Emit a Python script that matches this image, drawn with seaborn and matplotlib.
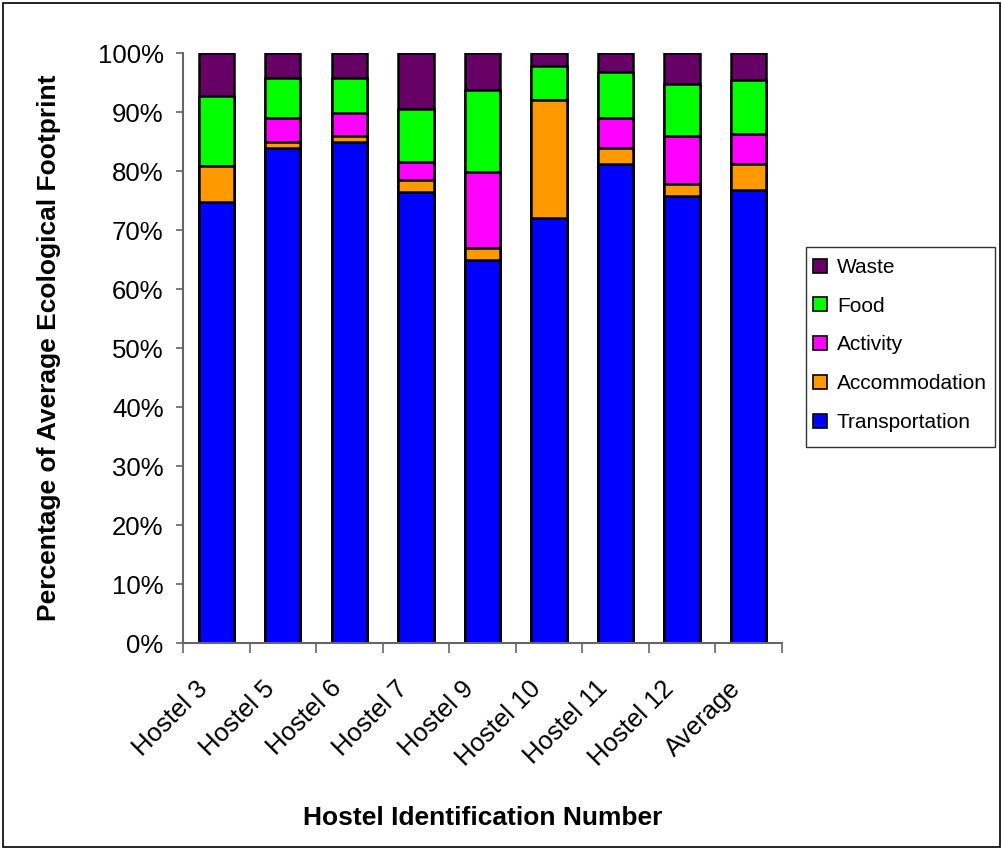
import numpy as np
import pandas as pd
import matplotlib
matplotlib.use('Agg')
import matplotlib.pyplot as plt
from matplotlib.patches import Patch, Rectangle
from matplotlib.ticker import FuncFormatter, FixedLocator
from matplotlib.transforms import ScaledTranslation
import seaborn as sns

# Datos (porcentaje de la huella ecológica promedio)
hostels = ['Hostel 3', 'Hostel 5', 'Hostel 6', 'Hostel 7', 'Hostel 9',
           'Hostel 10', 'Hostel 11', 'Hostel 12', 'Average']
transportation = [74.8, 84.0, 85.0, 76.5, 65.0, 72.0, 81.2, 75.8, 76.8]
accommodation = [6.0, 1.0, 1.0, 2.0, 2.0, 20.0, 2.7, 2.0, 4.4]
activity = [0.0, 4.0, 3.8, 3.0, 12.9, 0.0, 5.1, 8.1, 5.1]
food = [12.0, 6.8, 6.0, 9.1, 13.9, 5.8, 7.8, 8.8, 9.1]
waste = [7.2, 4.2, 4.2, 9.4, 6.2, 2.2, 3.2, 5.3, 4.6]

categories = ['Transportation', 'Accommodation', 'Activity', 'Food', 'Waste']
colors = {'Transportation': '#0000FF', 'Accommodation': '#FF9900',
          'Activity': '#FF00FF', 'Food': '#00FF00', 'Waste': '#660066'}

df = pd.DataFrame({'Hostel': hostels, 'Transportation': transportation,
                   'Accommodation': accommodation, 'Activity': activity,
                   'Food': food, 'Waste': waste})

# Acumulados para apilar (se dibuja del más alto al más bajo)
cum = df[categories].cumsum(axis=1)
cum['Hostel'] = df['Hostel']

sns.set_theme(style='white')
plt.rcParams['font.family'] = ['Liberation Sans', 'DejaVu Sans']
plt.rcParams['text.color'] = 'black'
plt.rcParams['axes.labelcolor'] = 'black'
plt.rcParams['xtick.color'] = 'black'
plt.rcParams['ytick.color'] = 'black'

fig = plt.figure(figsize=(10.03, 8.5), dpi=100)
ax = fig.add_axes([0.1825, 0.2435, 0.597, 0.694])

for cat in reversed(categories):
    sns.barplot(data=cum, x='Hostel', y=cat, color=colors[cat], ax=ax,
                width=0.53, edgecolor='black', linewidth=1.8, saturation=1)

ax.set_ylim(0, 100)
ax.set_xlim(-0.5, len(hostels) - 0.5)
ax.set_yticks(np.arange(0, 101, 10))
ax.yaxis.set_major_formatter(FuncFormatter(lambda v, p: f'{int(v)}%'))
ax.tick_params(axis='y', which='major', length=5, width=1.2, color='#666666',
               labelsize=18.5, left=True, pad=9)
ax.tick_params(axis='x', which='major', length=0, labelsize=18.5, pad=30)
ax.xaxis.set_minor_locator(FixedLocator(np.arange(-0.5, len(hostels), 1)))
ax.tick_params(axis='x', which='minor', length=7, width=1.2, color='#666666',
               bottom=True)
shift = ScaledTranslation(-12 / 100, 0, fig.dpi_scale_trans)
for lbl in ax.get_xticklabels():
    lbl.set_rotation(45)
    lbl.set_ha('right')
    lbl.set_va('center')
    lbl.set_rotation_mode('anchor')
    lbl.set_transform(lbl.get_transform() + shift)

for s in ['top', 'right']:
    ax.spines[s].set_visible(False)
for s in ['left', 'bottom']:
    ax.spines[s].set_color('#666666')
    ax.spines[s].set_linewidth(1.5)

ax.set_xlabel('Hostel Identification Number', fontsize=19, fontweight='bold',
              labelpad=26)
ax.set_ylabel('Percentage of Average Ecological Footprint', fontsize=19,
              fontweight='bold', labelpad=26)

# Leyenda sin marco; el marco se dibuja aparte
handles = [Patch(facecolor=colors[c], edgecolor='black', linewidth=1.2, label=c)
           for c in reversed(categories)]
leg = fig.legend(handles=handles, loc='center left',
                 bbox_to_anchor=(813 / 1003, 1 - 345 / 850),
                 fontsize=15, frameon=False,
                 handlelength=0.65, handleheight=0.65, handletextpad=0.5,
                 labelspacing=0.95, borderpad=0.0, borderaxespad=0)
fig.patches.append(Rectangle((806 / 1003, 1 - 447 / 850), 189 / 1003, 200 / 850,
                             transform=fig.transFigure, fill=False,
                             edgecolor='#333333', linewidth=1.0))

fig.patches.append(Rectangle((0.003, 0.003), 0.994, 0.994, transform=fig.transFigure,
                             fill=False, edgecolor='black', linewidth=1.2))

fig.savefig('out.png', dpi=100)
